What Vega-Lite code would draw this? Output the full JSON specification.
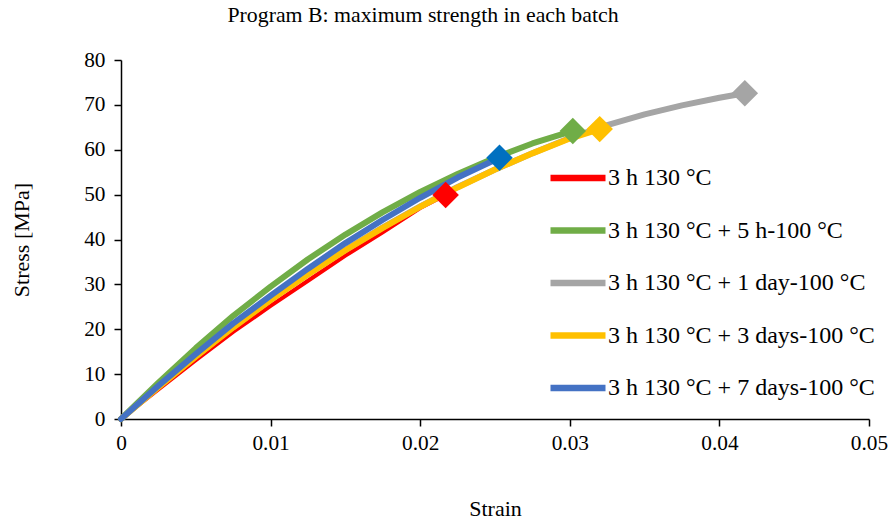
{
  "$schema": "https://vega.github.io/schema/vega-lite/v6.json",
  "autosize": "none",
  "width": 748,
  "height": 359,
  "padding": {"left": 121, "top": 60, "right": 26, "bottom": 108},
  "background": "white",
  "config": {
    "font": "Liberation Serif",
    "view": {"stroke": null},
    "axis": {"labelFont": "Liberation Serif", "titleFont": "Liberation Serif", "labelFontSize": 21.3, "titleFontSize": 22, "labelColor": "#000", "titleColor": "#000", "titleFontWeight": "normal", "domainColor": "#000", "tickColor": "#000", "domainWidth": 1.5, "tickWidth": 1.5, "grid": false, "labelFlush": false}
  },
  "title": {"text": "Program B: maximum strength in each batch", "font": "Liberation Serif", "fontSize": 21.8, "fontWeight": "normal", "color": "#000", "anchor": "middle", "frame": "group", "offset": 22, "dx": -72},
  "datasets": {
    "curves": [
      {"series": "3 h 130 °C", "strain": 0, "stress": 0},
      {"series": "3 h 130 °C", "strain": 0.0025, "stress": 6.6},
      {"series": "3 h 130 °C", "strain": 0.005, "stress": 13.1},
      {"series": "3 h 130 °C", "strain": 0.0075, "stress": 19.4},
      {"series": "3 h 130 °C", "strain": 0.01, "stress": 25.2},
      {"series": "3 h 130 °C", "strain": 0.0125, "stress": 30.8},
      {"series": "3 h 130 °C", "strain": 0.015, "stress": 36.4},
      {"series": "3 h 130 °C", "strain": 0.0175, "stress": 41.6},
      {"series": "3 h 130 °C", "strain": 0.02, "stress": 47.0},
      {"series": "3 h 130 °C", "strain": 0.0217, "stress": 49.9},
      {"series": "3 h 130 °C + 5 h-100 °C", "strain": 0, "stress": 0},
      {"series": "3 h 130 °C + 5 h-100 °C", "strain": 0.0025, "stress": 8.1},
      {"series": "3 h 130 °C + 5 h-100 °C", "strain": 0.005, "stress": 15.8},
      {"series": "3 h 130 °C + 5 h-100 °C", "strain": 0.0075, "stress": 23.0},
      {"series": "3 h 130 °C + 5 h-100 °C", "strain": 0.01, "stress": 29.5},
      {"series": "3 h 130 °C + 5 h-100 °C", "strain": 0.0125, "stress": 35.6},
      {"series": "3 h 130 °C + 5 h-100 °C", "strain": 0.015, "stress": 41.1},
      {"series": "3 h 130 °C + 5 h-100 °C", "strain": 0.0175, "stress": 46.1},
      {"series": "3 h 130 °C + 5 h-100 °C", "strain": 0.02, "stress": 50.6},
      {"series": "3 h 130 °C + 5 h-100 °C", "strain": 0.0225, "stress": 54.6},
      {"series": "3 h 130 °C + 5 h-100 °C", "strain": 0.025, "stress": 58.2},
      {"series": "3 h 130 °C + 5 h-100 °C", "strain": 0.0275, "stress": 61.4},
      {"series": "3 h 130 °C + 5 h-100 °C", "strain": 0.0302, "stress": 64.2},
      {"series": "3 h 130 °C + 1 day-100 °C", "strain": 0, "stress": 0},
      {"series": "3 h 130 °C + 1 day-100 °C", "strain": 0.0025, "stress": 7.2},
      {"series": "3 h 130 °C + 1 day-100 °C", "strain": 0.005, "stress": 14.0},
      {"series": "3 h 130 °C + 1 day-100 °C", "strain": 0.0075, "stress": 20.5},
      {"series": "3 h 130 °C + 1 day-100 °C", "strain": 0.01, "stress": 26.6},
      {"series": "3 h 130 °C + 1 day-100 °C", "strain": 0.0125, "stress": 32.3},
      {"series": "3 h 130 °C + 1 day-100 °C", "strain": 0.015, "stress": 37.7},
      {"series": "3 h 130 °C + 1 day-100 °C", "strain": 0.0175, "stress": 42.7},
      {"series": "3 h 130 °C + 1 day-100 °C", "strain": 0.02, "stress": 47.4},
      {"series": "3 h 130 °C + 1 day-100 °C", "strain": 0.0225, "stress": 51.7},
      {"series": "3 h 130 °C + 1 day-100 °C", "strain": 0.025, "stress": 55.6},
      {"series": "3 h 130 °C + 1 day-100 °C", "strain": 0.0275, "stress": 59.2},
      {"series": "3 h 130 °C + 1 day-100 °C", "strain": 0.03, "stress": 62.6},
      {"series": "3 h 130 °C + 1 day-100 °C", "strain": 0.0325, "stress": 65.5},
      {"series": "3 h 130 °C + 1 day-100 °C", "strain": 0.035, "stress": 67.9},
      {"series": "3 h 130 °C + 1 day-100 °C", "strain": 0.0375, "stress": 69.9},
      {"series": "3 h 130 °C + 1 day-100 °C", "strain": 0.04, "stress": 71.6},
      {"series": "3 h 130 °C + 1 day-100 °C", "strain": 0.0417, "stress": 72.6},
      {"series": "3 h 130 °C + 3 days-100 °C", "strain": 0, "stress": 0},
      {"series": "3 h 130 °C + 3 days-100 °C", "strain": 0.0025, "stress": 7.1},
      {"series": "3 h 130 °C + 3 days-100 °C", "strain": 0.005, "stress": 13.9},
      {"series": "3 h 130 °C + 3 days-100 °C", "strain": 0.0075, "stress": 20.4},
      {"series": "3 h 130 °C + 3 days-100 °C", "strain": 0.01, "stress": 26.5},
      {"series": "3 h 130 °C + 3 days-100 °C", "strain": 0.0125, "stress": 32.2},
      {"series": "3 h 130 °C + 3 days-100 °C", "strain": 0.015, "stress": 37.6},
      {"series": "3 h 130 °C + 3 days-100 °C", "strain": 0.0175, "stress": 42.6},
      {"series": "3 h 130 °C + 3 days-100 °C", "strain": 0.02, "stress": 47.3},
      {"series": "3 h 130 °C + 3 days-100 °C", "strain": 0.0225, "stress": 51.6},
      {"series": "3 h 130 °C + 3 days-100 °C", "strain": 0.025, "stress": 55.6},
      {"series": "3 h 130 °C + 3 days-100 °C", "strain": 0.0275, "stress": 59.2},
      {"series": "3 h 130 °C + 3 days-100 °C", "strain": 0.03, "stress": 62.5},
      {"series": "3 h 130 °C + 3 days-100 °C", "strain": 0.032, "stress": 64.6},
      {"series": "3 h 130 °C + 7 days-100 °C", "strain": 0, "stress": 0},
      {"series": "3 h 130 °C + 7 days-100 °C", "strain": 0.0025, "stress": 7.4},
      {"series": "3 h 130 °C + 7 days-100 °C", "strain": 0.005, "stress": 14.5},
      {"series": "3 h 130 °C + 7 days-100 °C", "strain": 0.0075, "stress": 21.3},
      {"series": "3 h 130 °C + 7 days-100 °C", "strain": 0.01, "stress": 27.5},
      {"series": "3 h 130 °C + 7 days-100 °C", "strain": 0.0125, "stress": 33.5},
      {"series": "3 h 130 °C + 7 days-100 °C", "strain": 0.015, "stress": 39.2},
      {"series": "3 h 130 °C + 7 days-100 °C", "strain": 0.0175, "stress": 44.4},
      {"series": "3 h 130 °C + 7 days-100 °C", "strain": 0.02, "stress": 49.3},
      {"series": "3 h 130 °C + 7 days-100 °C", "strain": 0.0225, "stress": 53.8},
      {"series": "3 h 130 °C + 7 days-100 °C", "strain": 0.0253, "stress": 58.2}
    ],
    "peaks": [
      {"series": "3 h 130 °C", "strain": 0.0217, "stress": 49.9},
      {"series": "3 h 130 °C + 7 days-100 °C", "strain": 0.0253, "stress": 58.2},
      {"series": "3 h 130 °C + 5 h-100 °C", "strain": 0.0302, "stress": 64.2},
      {"series": "3 h 130 °C + 3 days-100 °C", "strain": 0.032, "stress": 64.6},
      {"series": "3 h 130 °C + 1 day-100 °C", "strain": 0.0417, "stress": 72.6}
    ]
  },
  "encoding": {
    "x": {"field": "strain", "type": "quantitative", "scale": {"domain": [0, 0.05], "nice": false}, "axis": {"values": [0, 0.01, 0.02, 0.03, 0.04, 0.05], "format": "~g", "title": "Strain", "tickSize": 7, "labelPadding": 6, "titlePadding": 45}},
    "y": {"field": "stress", "type": "quantitative", "scale": {"domain": [0, 80], "nice": false}, "axis": {"values": [0, 10, 20, 30, 40, 50, 60, 70, 80], "title": "Stress [MPa]", "tickSize": 7, "labelPadding": 9, "titlePadding": 50}},
    "color": {"field": "series", "type": "nominal", "scale": {"domain": ["3 h 130 °C", "3 h 130 °C + 5 h-100 °C", "3 h 130 °C + 1 day-100 °C", "3 h 130 °C + 3 days-100 °C", "3 h 130 °C + 7 days-100 °C"], "range": ["#FF0000", "#70AD47", "#A5A5A5", "#FFC000", "#4472C4"]}, "legend": {"title": null, "orient": "none", "legendX": 426, "legendY": 87, "symbolType": "stroke", "symbolSize": 3025, "symbolStrokeWidth": 6.5, "labelFont": "Liberation Serif", "labelFontSize": 24, "labelColor": "#000", "labelOffset": -1, "rowPadding": 8.5, "labelLimit": 400, "padding": 0}}
  },
  "layer": [
    {"data": {"name": "curves"}, "transform": [{"filter": "datum.series === '3 h 130 °C'"}], "mark": {"type": "line", "strokeWidth": 4, "strokeCap": "round", "strokeJoin": "round"}},
    {"data": {"name": "curves"}, "transform": [{"filter": "datum.series === '3 h 130 °C + 5 h-100 °C'"}], "mark": {"type": "line", "strokeWidth": 6, "strokeCap": "round", "strokeJoin": "round"}},
    {"data": {"name": "curves"}, "transform": [{"filter": "datum.series === '3 h 130 °C + 1 day-100 °C'"}], "mark": {"type": "line", "strokeWidth": 6, "strokeCap": "round", "strokeJoin": "round"}},
    {"data": {"name": "curves"}, "transform": [{"filter": "datum.series === '3 h 130 °C + 3 days-100 °C'"}], "mark": {"type": "line", "strokeWidth": 6, "strokeCap": "round", "strokeJoin": "round"}},
    {"data": {"name": "curves"}, "transform": [{"filter": "datum.series === '3 h 130 °C + 7 days-100 °C'"}], "mark": {"type": "line", "strokeWidth": 6, "strokeCap": "round", "strokeJoin": "round"}},
    {"data": {"name": "peaks"}, "mark": {"type": "point", "shape": "diamond", "size": 700, "filled": true, "opacity": 1},
     "encoding": {"color": {"value": null}, "fill": {"field": "series", "type": "nominal", "scale": {"domain": ["3 h 130 °C", "3 h 130 °C + 5 h-100 °C", "3 h 130 °C + 1 day-100 °C", "3 h 130 °C + 3 days-100 °C", "3 h 130 °C + 7 days-100 °C"], "range": ["#FF0000", "#70AD47", "#A5A5A5", "#FFC000", "#0070C0"]}, "legend": null}}}
  ]
}
